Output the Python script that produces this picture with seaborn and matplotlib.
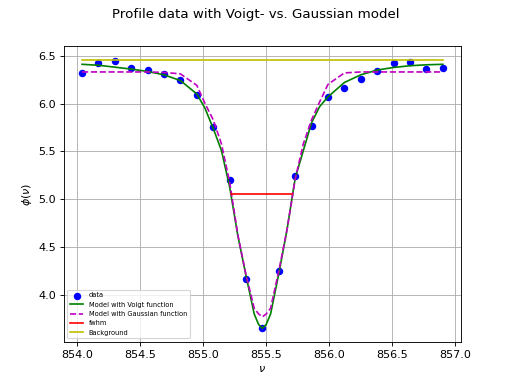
import matplotlib
matplotlib.use('Agg')
import matplotlib.pyplot as plt
import numpy as np
import pandas as pd
import seaborn as sns

# measured profile
nu = [854.04, 854.17, 854.30, 854.43, 854.56, 854.69, 854.82, 854.95, 855.08, 855.21,
      855.34, 855.47, 855.60, 855.73, 855.86, 855.99, 856.12, 856.25, 856.38, 856.51,
      856.64, 856.77, 856.90]
phi = [6.32, 6.42, 6.44, 6.37, 6.35, 6.31, 6.25, 6.09, 5.75, 5.20,
       4.17, 3.65, 4.25, 5.24, 5.76, 6.07, 6.16, 6.26, 6.34, 6.42,
       6.43, 6.36, 6.37]

# model curves
nu_model = [854.04, 854.17, 854.30, 854.43, 854.56, 854.69, 854.82, 854.95, 855.015, 855.08,
            855.145, 855.21, 855.275, 855.34, 855.405, 855.44, 855.47, 855.50, 855.535, 855.60,
            855.665, 855.73, 855.795, 855.86, 855.925, 855.99, 856.12, 856.25, 856.38, 856.51,
            856.64, 856.77, 856.90]
voigt = [6.41, 6.40, 6.38, 6.36, 6.335, 6.30, 6.24, 6.10, 5.95, 5.74,
         5.51, 5.13, 4.62, 4.20, 3.80, 3.69, 3.65, 3.69, 3.80, 4.22,
         4.68, 5.22, 5.51, 5.80, 5.97, 6.07, 6.22, 6.30, 6.35, 6.377,
         6.395, 6.405, 6.41]
gauss = [6.33, 6.33, 6.33, 6.33, 6.33, 6.325, 6.31, 6.19, 6.00, 5.83,
         5.58, 5.18, 4.63, 4.21, 3.86, 3.80, 3.77, 3.80, 3.86, 4.25,
         4.68, 5.21, 5.58, 5.83, 6.02, 6.20, 6.32, 6.33, 6.33, 6.33,
         6.33, 6.33, 6.33]

fwhm_x = [855.22, 855.705]
fwhm_y = [5.05, 5.05]
bg_x = [854.04, 856.90]
bg_y = [6.46, 6.46]

fig, ax = plt.subplots(figsize=(6.4, 4.8), dpi=80)

sns.scatterplot(x=nu, y=phi, color='b', s=45, linewidth=0, label='data', ax=ax, zorder=2)
sns.lineplot(x=nu_model, y=voigt, color='g', label='Model with Voigt function', ax=ax, zorder=3)
sns.lineplot(x=nu_model, y=gauss, color='m', linestyle='--', label='Model with Gaussian function', ax=ax, zorder=3)
sns.lineplot(x=fwhm_x, y=fwhm_y, color='r', label='fwhm', ax=ax, zorder=3)
sns.lineplot(x=bg_x, y=bg_y, color='y', label='Background', ax=ax, zorder=3)

ax.grid(True)
ax.set_axisbelow(True)
ax.set_xlabel(r'$\nu$')
ax.set_ylabel(r'$\phi(\nu)$')
ax.legend(loc='lower left', fontsize=6)
fig.suptitle('Profile data with Voigt- vs. Gaussian model')

fig.savefig('out.png', dpi=80)
